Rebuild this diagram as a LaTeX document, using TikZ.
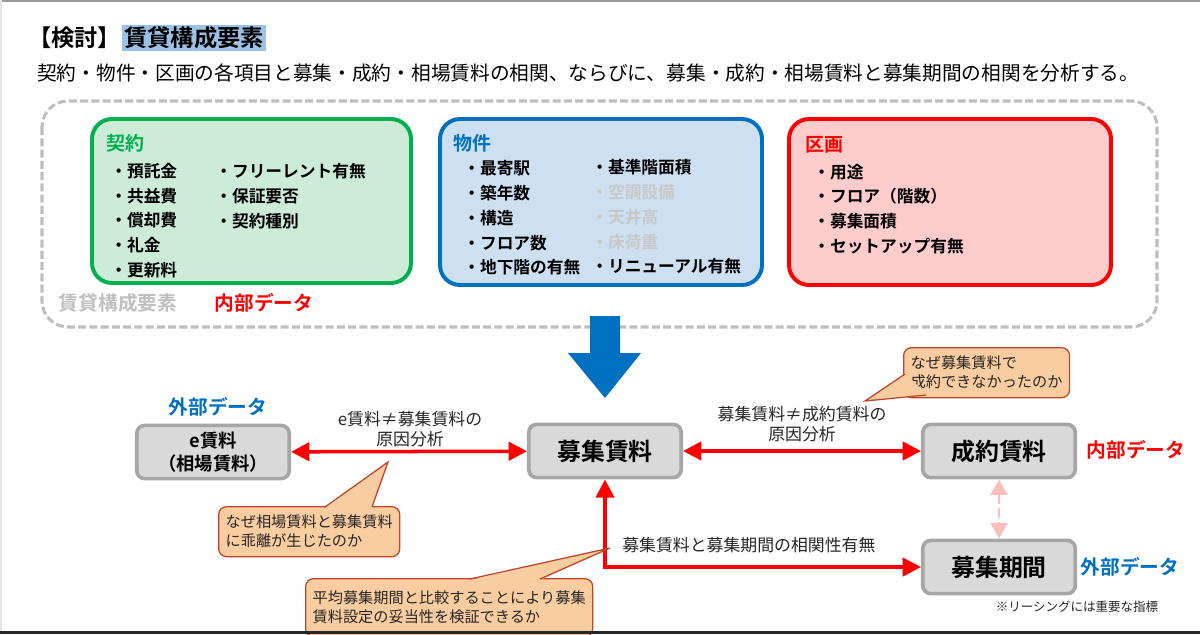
\documentclass[tikz,border=0pt]{standalone}
\usepackage{fontspec}
\setmainfont{Noto Sans CJK JP}[BoldFont={Noto Sans CJK JP Bold}]
\usetikzlibrary{arrows.meta, positioning, calc}
\definecolor{kgreen}{RGB}{0,176,80}
\definecolor{kgreenfill}{RGB}{204,236,216}
\definecolor{kblue}{RGB}{0,112,192}
\definecolor{kbluefill}{RGB}{204,224,242}
\definecolor{kred}{RGB}{255,0,0}
\definecolor{kredfill}{RGB}{255,204,204}
\definecolor{kgray}{RGB}{191,191,191}
\definecolor{lightitem}{RGB}{200,200,200}
\definecolor{nodegray}{RGB}{217,217,217}
\definecolor{nodeedge}{RGB}{166,166,166}
\definecolor{calloutfill}{RGB}{250,205,160}
\definecolor{calloutedge}{RGB}{190,70,40}
\definecolor{hlblue}{RGB}{155,194,230}
\definecolor{softpink}{RGB}{255,190,190}

\begin{document}
\begin{tikzpicture}[x=0.025cm, y=-0.025cm,
  catbox/.style={line width=2.8pt, rounded corners=0.5cm},
  cathead/.style={anchor=west, inner sep=0pt, font=\fontsize{13.5}{16}\selectfont\bfseries},
  itemcol/.style={anchor=west, inner sep=0pt, align=left, font=\fontsize{11.9}{17.6}\selectfont\bfseries},
  ratebox/.style={draw=nodeedge, fill=nodegray, line width=2.6pt, rounded corners=0.2cm,
    minimum width=3.81cm, minimum height=1.33cm, align=center, font=\fontsize{17}{20}\selectfont\bfseries},
  tag/.style={inner sep=0pt, font=\fontsize{14}{16}\selectfont\bfseries},
  pathlabel/.style={inner sep=0pt, align=center, text=black!85, font=\fontsize{12}{14.5}\selectfont},
  redlink/.style={kred, line width=2.5pt, {Triangle[length=13pt,width=13pt]}-{Triangle[length=13pt,width=13pt]}},
  callout/.style={draw=calloutedge, fill=calloutfill, line width=0.9pt, rounded corners=0.2cm,
    anchor=north west, align=left, inner xsep=5pt, text=black!85, font=\fontsize{10.8}{13.5}\selectfont}]
  \useasboundingbox (0,0) rectangle (1200,634);
  \fill[black!40] (0,0) rectangle (1200,2);
  \fill[black!10] (0,0) rectangle (2,631);

  % title
  \node[anchor=west, inner sep=0pt, font=\fontsize{16.5}{19}\selectfont\bfseries] (ttl) at (28,38) {【検討】};
  \node[right=0pt of ttl, fill=hlblue, inner xsep=2pt, inner ysep=1pt, font=\fontsize{16.5}{19}\selectfont\bfseries] (ttlhl) {賃貸構成要素};
  \node[anchor=west, inner sep=0pt, font=\fontsize{14}{16}\selectfont] (lead) at (37,73)
    {契約・物件・区画の各項目と募集・成約・相場賃料の相関、ならびに、募集・成約・相場賃料と募集期間の相関を分析する。};

  % rental components
  \draw[kgray, line width=2.2pt, dash pattern=on 5.7pt off 2.3pt, rounded corners=0.65cm] (42,101) rectangle (1157,327);
  \draw[catbox, draw=kgreen, fill=kgreenfill] (92,119) rectangle (411,283);
  \draw[catbox, draw=kblue, fill=kbluefill] (440,119) rectangle (762,285);
  \draw[catbox, draw=kred, fill=kredfill] (789,119) rectangle (1111,285);

  \node[cathead, kgreen] (keiyaku) at (106,143) {契約};
  \node[itemcol] (keiyakuA) at (110,220.5) {・預託金\\・共益費\\・償却費\\・礼金\\・更新料};
  \node[itemcol] (keiyakuB) at (215,196) {・フリーレント有無\\・保証要否\\・契約種別};

  \node[cathead, kblue] (bukken) at (453,143) {物件};
  \node[itemcol] (bukkenA) at (463,218) {・最寄駅\\・築年数\\・構造\\・フロア数\\・地下階の有無};
  \node[itemcol] (bukkenB) at (591,217) {・基準階面積\\\textcolor{lightitem}{・空調設備}\\\textcolor{lightitem}{・天井高}\\\textcolor{lightitem}{・床荷重}\\・リニューアル有無};

  \node[cathead, kred] (kukaku) at (805,145) {区画};
  \node[itemcol] (kukakuA) at (813,209) {・用途\\・フロア（階数）\\・募集面積\\・セットアップ有無};

  \node[tag, kgray] (youso) at (118,303) {賃貸構成要素};
  \node[tag, kred] (intag0) at (264,303) {内部データ};

  \fill[kblue] (590,316) -- (620,316) -- (620,353) -- (641,353) -- (605,398) -- (568,353) -- (590,353) -- cycle;

  % rents
  \node[ratebox, font=\fontsize{13}{16.3}\selectfont\bfseries] (erent) at (213,452) {e賃料\\（相場賃料）};
  \node[ratebox] (boshu) at (605,451) {募集賃料};
  \node[ratebox] (seiyaku) at (999,451) {成約賃料};
  \node[ratebox] (kikan) at (999,567) {募集期間};

  \node[tag, kblue] (extag1) at (218,407) {外部データ};
  \node[tag, kred] (intag1) at (1136,450) {内部データ};
  \node[tag, kblue] (extag2) at (1130,567) {外部データ};
  \node[inner sep=0pt, text=black!85, font=\fontsize{8.9}{10}\selectfont] (note) at (1077,607) {※リーシングには重要な指標};

  \draw[redlink] (erent) -- (boshu);
  \draw[redlink] (boshu) -- (seiyaku);
  \draw[redlink] (boshu.south) |- (kikan.west);
  \draw[softpink, line width=2pt, dash pattern=on 7pt off 3pt,
    {Triangle[length=11pt,width=12pt]}-{Triangle[length=11pt,width=12pt]}] (seiyaku) -- (kikan);

  \node[pathlabel] (lbl1) at (410,429) {e賃料≠募集賃料の\\原因分析};
  \node[pathlabel] (lbl2) at (802,424) {募集賃料≠成約賃料の\\原因分析};
  \node[pathlabel, anchor=west] (lbl3) at (622,545) {募集賃料と募集期間の相関性有無};

  % callouts
  \node[callout, minimum height=1.25cm] (why1) at (218,506) {なぜ相場賃料と募集賃料\\に乖離が生じたのか};
  \fill[calloutfill] (325,508) -- (388,462) -- (372,508) -- cycle;
  \draw[calloutedge, line width=0.9pt] (325,507) -- (388,462) -- (372,507);

  \node[callout, minimum height=1.25cm] (why2) at (903,347) {なぜ募集賃料で\\成約できなかったのか};
  \fill[calloutfill] (906,374) -- (865,401) -- (926,394) -- cycle;
  \draw[calloutedge, line width=0.9pt] (905,374) -- (865,401) -- (926,395);

  \node[callout, minimum height=1.45cm] (why3) at (305,578) {平均募集期間と比較することにより募集\\賃料設定の妥当性を検証できるか};
  \fill[calloutfill] (470,580) -- (610,548) -- (540,580) -- cycle;
  \draw[calloutedge, line width=0.9pt] (470,579) -- (610,548) -- (540,579);
  \fill[black!85] (0,631) rectangle (1200,634);
\end{tikzpicture}
\end{document}
